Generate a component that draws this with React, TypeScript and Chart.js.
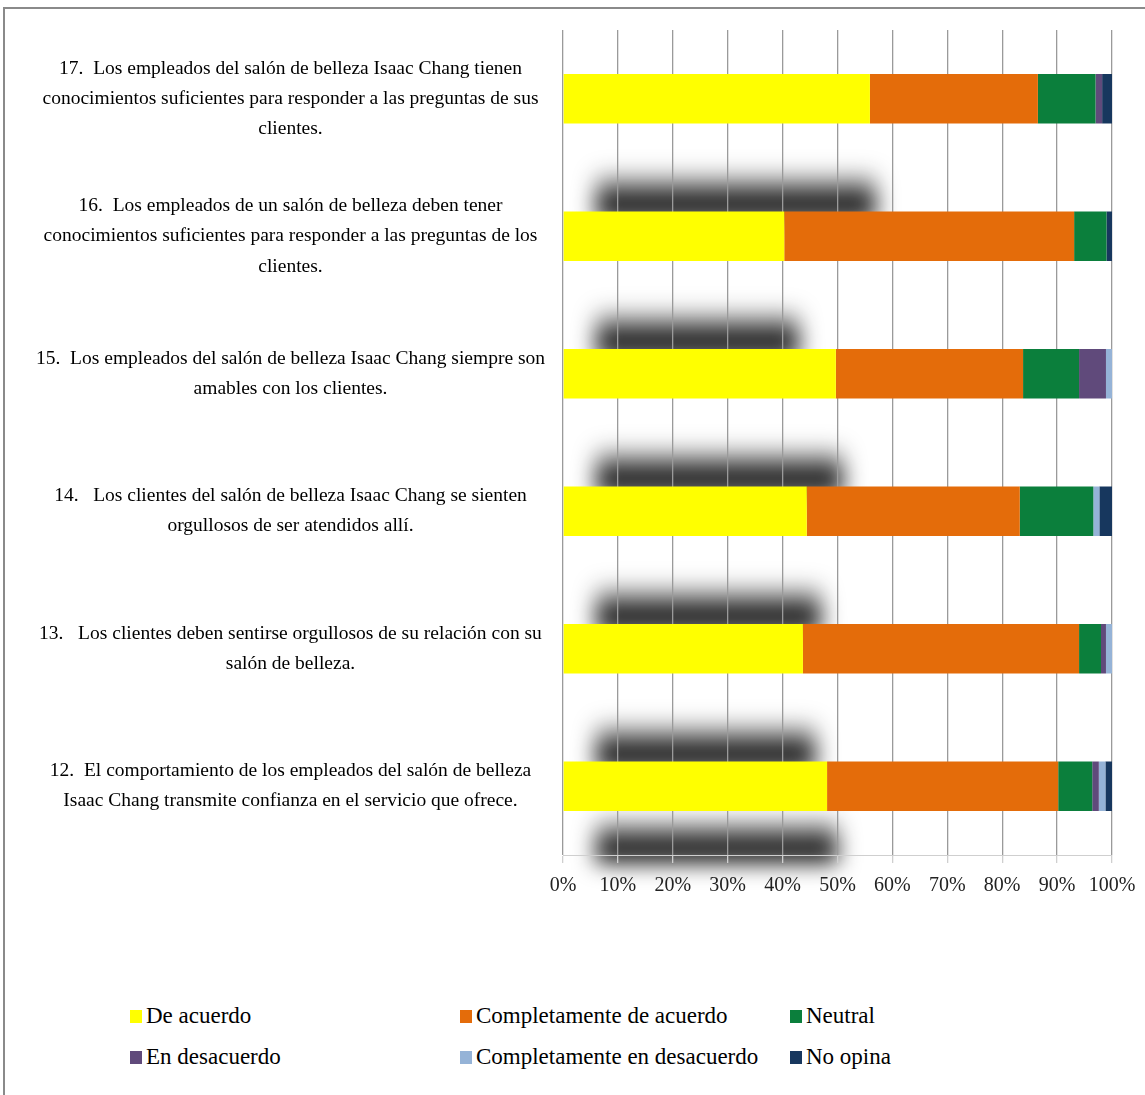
import React, { useEffect, useRef } from "react";
import { Chart, registerables } from "chart.js";

Chart.register(...registerables);

const categories: string[][] = [
  ["17.  Los empleados del salón de belleza Isaac Chang tienen", "conocimientos suficientes para responder a las preguntas de sus", "clientes."],
  ["16.  Los empleados de un salón de belleza deben tener", "conocimientos suficientes para responder a las preguntas de los", "clientes."],
  ["15.  Los empleados del salón de belleza Isaac Chang siempre son", "amables con los clientes."],
  ["14.   Los clientes del salón de belleza Isaac Chang se sienten", "orgullosos de ser atendidos allí."],
  ["13.   Los clientes deben sentirse orgullosos de su relación con su", "salón de belleza."],
  ["12.  El comportamiento de los empleados del salón de belleza", "Isaac Chang transmite confianza en el servicio que ofrece."],
];

const deAcuerdo = [55.9, 40.3, 49.7, 44.4, 43.7, 48.1];
const completamenteDeAcuerdo = [30.6, 52.8, 34.1, 38.8, 50.3, 42.1];
const neutral = [10.5, 5.9, 10.2, 13.4, 4.0, 6.2];
const enDesacuerdo = [1.2, 0, 4.9, 0, 0.9, 1.2];
const completamenteEnDesacuerdo = [0, 0, 1.1, 1.1, 1.1, 1.2];
const noOpina = [1.8, 1.0, 0, 2.3, 0, 1.2];

const seriesNames = [
  "De acuerdo",
  "Completamente de acuerdo",
  "Neutral",
  "En desacuerdo",
  "Completamente en desacuerdo",
  "No opina",
];
const seriesColors = ["#FFFF00", "#E46C0A", "#0B7F3C", "#604A7B", "#95B3D7", "#17375E"];
const seriesValues = [deAcuerdo, completamenteDeAcuerdo, neutral, enDesacuerdo, completamenteEnDesacuerdo, noOpina];

const xTicks = [0, 10, 20, 30, 40, 50, 60, 70, 80, 90, 100];

// blurred shadow decorations (x extent in axis %), above bars 16..12 and below bar 12
const shadowFrom = [6, 6, 6, 6, 6, 6];
const shadowTo = [57, 43, 51, 47, 46, 50];

const SERIF = "'Liberation Serif', 'Times New Roman', serif";

const shadowPlugin = {
  id: "shadows",
  beforeDraw(chart: any) {
    const ctx = chart.ctx;
    const xs = chart.scales.x;
    const meta = chart.getDatasetMeta(0);
    const els = meta.data;
    if (!els || els.length < 6) return;
    ctx.save();
    (ctx as any).filter = "blur(11px)";
    for (let k = 0; k < shadowFrom.length; k++) {
      const x0 = xs.getPixelForValue(shadowFrom[k]);
      const x1 = xs.getPixelForValue(shadowTo[k]);
      let y0: number, y1: number;
      if (k < 5) {
        const el = els[k + 1];
        const top = el.y - el.height / 2;
        y0 = top - 42;
        y1 = top + 8;
      } else {
        const el = els[5];
        const bottom = el.y + el.height / 2;
        y0 = bottom + 4;
        y1 = chart.chartArea.bottom + 8;
      }
      const g = ctx.createLinearGradient(0, y0, 0, y1);
      g.addColorStop(0, "rgba(15,15,15,0)");
      g.addColorStop(0.45, "rgba(15,15,15,0.7)");
      g.addColorStop(0.75, "rgba(15,15,15,1)");
      g.addColorStop(1, "rgba(15,15,15,1)");
      ctx.fillStyle = g;
      ctx.fillRect(x0, y0, x1 - x0, y1 - y0);
    }
    ctx.restore();
  },
};

function ChartView() {
  const ref = useRef<HTMLCanvasElement | null>(null);
  useEffect(() => {
    if (!ref.current) return;
    const chart = new Chart(ref.current, {
      type: "bar",
      data: {
        labels: categories,
        datasets: seriesNames.map((name, i) => ({
          label: name,
          data: seriesValues[i],
          backgroundColor: seriesColors[i],
          borderWidth: 0,
          barPercentage: 0.36,
          categoryPercentage: 1,
        })),
      },
      options: {
        indexAxis: "y",
        responsive: true,
        maintainAspectRatio: false,
        animation: false,
        layout: { padding: { top: 30, left: 10, right: 33, bottom: 0 } },
        plugins: {
          legend: { display: false },
          tooltip: { enabled: false },
          title: { display: false },
        },
        scales: {
          x: {
            stacked: true,
            min: 0,
            max: 100,
            afterFit(scale: any) {
              scale.height = 65;
              scale.paddingLeft = 0;
              scale.paddingRight = 0;
            },
            afterBuildTicks(scale: any) {
              scale.ticks = xTicks.map((v) => ({ value: v }));
            },
            ticks: {
              callback: (v: any) => v + "%",
              font: { family: SERIF, size: 20 },
              color: "#222",
              padding: 11,
              maxRotation: 0,
              autoSkip: false,
            },
            grid: {
              color: "#9a9a9a",
              lineWidth: 1.3,
              tickLength: 8,
              tickColor: "#cfcfcf",
            },
            border: { display: true, color: "#cfcfcf", width: 1 },
          },
          y: {
            stacked: true,
            afterFit(scale: any) {
              scale.width = 553;
              scale.paddingTop = 0;
              scale.paddingBottom = 0;
            },
            ticks: {
              font: { family: SERIF, size: 19.5, lineHeight: 1.55 },
              color: "#000",
              crossAlign: "center",
              padding: 18,
              autoSkip: false,
            },
            grid: { display: false, drawTicks: false },
            border: { display: false },
          },
        },
      },
      plugins: [shadowPlugin],
    } as any);
    return () => chart.destroy();
  }, []);
  return (
    <div style={{ position: "absolute", left: 0, top: 0, width: 1145, height: 920 }}>
      <canvas ref={ref} />
    </div>
  );
}

const legendCols = [130, 460, 790];
const legendRows = [1016, 1057];

export default function App() {
  return (
    <div
      style={{
        position: "absolute",
        left: 0,
        top: 0,
        width: 1145,
        height: 1095,
        overflow: "hidden",
        background: "#fff",
      }}
    >
      <div
        style={{
          position: "absolute",
          left: 3,
          top: 7,
          width: 1200,
          height: 1200,
          border: "2px solid #8a8a8a",
        }}
      />
      <ChartView />
      {seriesNames.map((name, i) => {
        const col = i % 3;
        const row = Math.floor(i / 3);
        return (
          <div
            key={name}
            style={{
              position: "absolute",
              left: legendCols[col],
              top: legendRows[row] - 15,
              height: 30,
              display: "flex",
              alignItems: "center",
              fontFamily: SERIF,
              fontSize: 23,
              color: "#000",
              whiteSpace: "nowrap",
            }}
          >
            <span
              style={{
                display: "inline-block",
                width: 12,
                height: 13,
                background: seriesColors[i],
                marginRight: 4,
              }}
            />
            {name}
          </div>
        );
      })}
    </div>
  );
}
